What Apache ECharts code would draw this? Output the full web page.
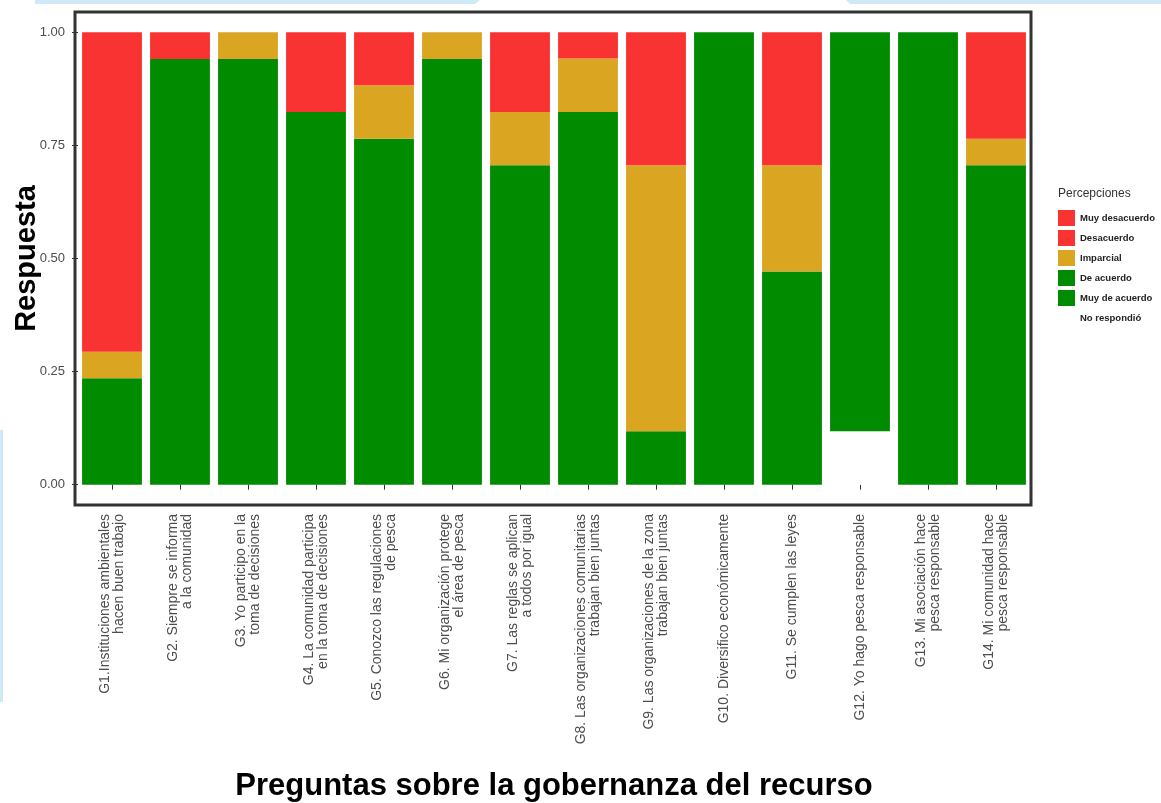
<!DOCTYPE html>
<html>
<head>
<meta charset="utf-8">
<title>Preguntas sobre la gobernanza del recurso</title>
<script src="https://cdn.jsdelivr.net/npm/echarts@6/dist/echarts.min.js"></script>
<style>
    html, body { margin: 0; padding: 0; background: #fff; }
    #container { width: 1161px; height: 803px; }
</style>
</head>
<body>
<div id="container"></div>
<script>
// preguntas (eje x)
const preguntas = [
    'G1.Instituciones ambientales\nhacen buen trabajo',
    'G2. Siempre se informa\na la comunidad',
    'G3. Yo participo en la\ntoma de decisiones',
    'G4. La comunidad participa\nen la toma de decisiones',
    'G5. Conozco las regulaciones\nde pesca',
    'G6. Mi organización protege\nel área de pesca',
    'G7. Las reglas se aplican\na todos por igual',
    'G8. Las organizaciones comunitarias\ntrabajan bien juntas',
    'G9. Las organizaciones de la zona\ntrabajan bien juntas',
    'G10. Diversifico económicamente',
    'G11. Se cumplen las leyes',
    'G12. Yo hago pesca responsable',
    'G13. Mi asociación hace\npesca responsable',
    'G14. Mi comunidad hace\npesca responsable',
]
// proporciones por percepción
const muyDesacuerdo = [0, 0, 0, 0, 0, 0, 0, 0, 0, 0, 0, 0, 0, 0]
const desacuerdo = [0.706, 0.059, 0, 0.176, 0.117, 0, 0.176, 0.058, 0.294, 0, 0.294, 0, 0, 0.235]
const imparcial = [0.059, 0, 0.059, 0, 0.118, 0.059, 0.118, 0.118, 0.588, 0, 0.235, 0, 0, 0.059]
const deAcuerdo = [0.235, 0.941, 0.941, 0.824, 0.765, 0.941, 0.706, 0.824, 0.118, 1, 0.471, 0.882, 1, 0.706]
const muyDeAcuerdo = [0, 0, 0, 0, 0, 0, 0, 0, 0, 0, 0, 0, 0, 0]
const noRespondio = [0, 0, 0, 0, 0, 0, 0, 0, 0, 0, 0, 0.118, 0, 0]
// marcas del eje y
const yTicks = [0, 0.25, 0.5, 0.75, 1]

const rojo = '#f93232'
const dorado = '#daa520'
const verde = '#008b00'
const fuente = 'Liberation Sans, Arial, sans-serif'

// serie apilada (la primera queda abajo)
const barra = (name, data, color) => {
    return {
        name: name,
        type: 'bar',
        stack: 'total',
        barWidth: '88%',
        itemStyle: { color: color },
        emphasis: { disabled: true },
        data: data,
    }
}

let option = {
    animation: false,
    backgroundColor: '#fff',
    textStyle: { fontFamily: fuente },
    title: {
        text: 'Percepciones',
        left: 1058,
        top: 188,
        padding: 0,
        textStyle: { fontSize: 12, fontWeight: 'normal', color: '#333', fontFamily: fuente },
    },
    legend: {
        orient: 'vertical',
        left: 1058,
        top: 210,
        padding: 0,
        itemWidth: 17,
        itemHeight: 16,
        itemGap: 4,
        icon: 'rect',
        selectedMode: false,
        textStyle: { fontSize: 9.5, fontWeight: 'bold', color: '#222', fontFamily: fuente },
        data: ['Muy desacuerdo', 'Desacuerdo', 'Imparcial', 'De acuerdo', 'Muy de acuerdo', 'No respondió'],
    },
    grid: {
        left: 78,
        right: 131,
        top: 12,
        bottom: 298,
        containLabel: false,
        outerBoundsMode: 'none',
    },
    xAxis: {
        type: 'category',
        data: preguntas,
        name: 'Preguntas sobre la gobernanza del recurso',
        nameLocation: 'middle',
        nameGap: 266,
        nameMoveOverlap: false,
        nameTextStyle: { fontSize: 31, fontWeight: 'bold', color: '#000', fontFamily: fuente },
        axisLine: { show: false },
        axisTick: { show: true, alignWithLabel: true, length: 5, lineStyle: { color: '#333' } },
        axisLabel: {
            interval: 0,
            rotate: 90,
            margin: 9,
            fontSize: 14,
            lineHeight: 14,
            color: '#4d4d4d',
            fontFamily: fuente,
        },
    },
    yAxis: {
        type: 'value',
        min: -0.045,
        max: 1.045,
        name: 'Respuesta',
        nameLocation: 'middle',
        nameGap: 37,
        nameMoveOverlap: false,
        nameTextStyle: { fontSize: 29, fontWeight: 'bold', color: '#000', fontFamily: fuente },
        axisLine: { show: false },
        splitLine: { show: false },
        axisTick: { show: true, length: 6, lineStyle: { color: '#333' }, customValues: yTicks },
        axisLabel: {
            margin: 13,
            fontSize: 13,
            color: '#4d4d4d',
            fontFamily: fuente,
            customValues: yTicks,
            formatter: (v) => v.toFixed(2),
        },
    },
    graphic: [
        // marco del panel
        { type: 'rect', shape: { x: 75, y: 12, width: 956, height: 493 }, style: { fill: null, stroke: '#333', lineWidth: 3 }, z: 10 },
        // restos azul claro del escaneo
        { type: 'polygon', shape: { points: [[35, 0], [480, 0], [475, 4], [35, 4]] }, style: { fill: '#cfe9f6' }, z: -1 },
        { type: 'polygon', shape: { points: [[846, 0], [1161, 0], [1161, 4], [850, 4]] }, style: { fill: '#cfe9f6' }, z: -1 },
        { type: 'rect', shape: { x: 0, y: 430, width: 3, height: 272 }, style: { fill: '#cfe9f6' }, z: -1 },
    ],
    series: [
        barra('No respondió', noRespondio, '#ffffff'),
        barra('Muy de acuerdo', muyDeAcuerdo, verde),
        barra('De acuerdo', deAcuerdo, verde),
        barra('Imparcial', imparcial, dorado),
        barra('Desacuerdo', desacuerdo, rojo),
        barra('Muy desacuerdo', muyDesacuerdo, rojo),
    ],
}

let chartDom = document.getElementById('container')
let myChart = echarts.init(chartDom, null, { renderer: 'canvas' })
option && myChart.setOption(option)
window.addEventListener('resize', myChart.resize)
</script>
</body>
</html>
